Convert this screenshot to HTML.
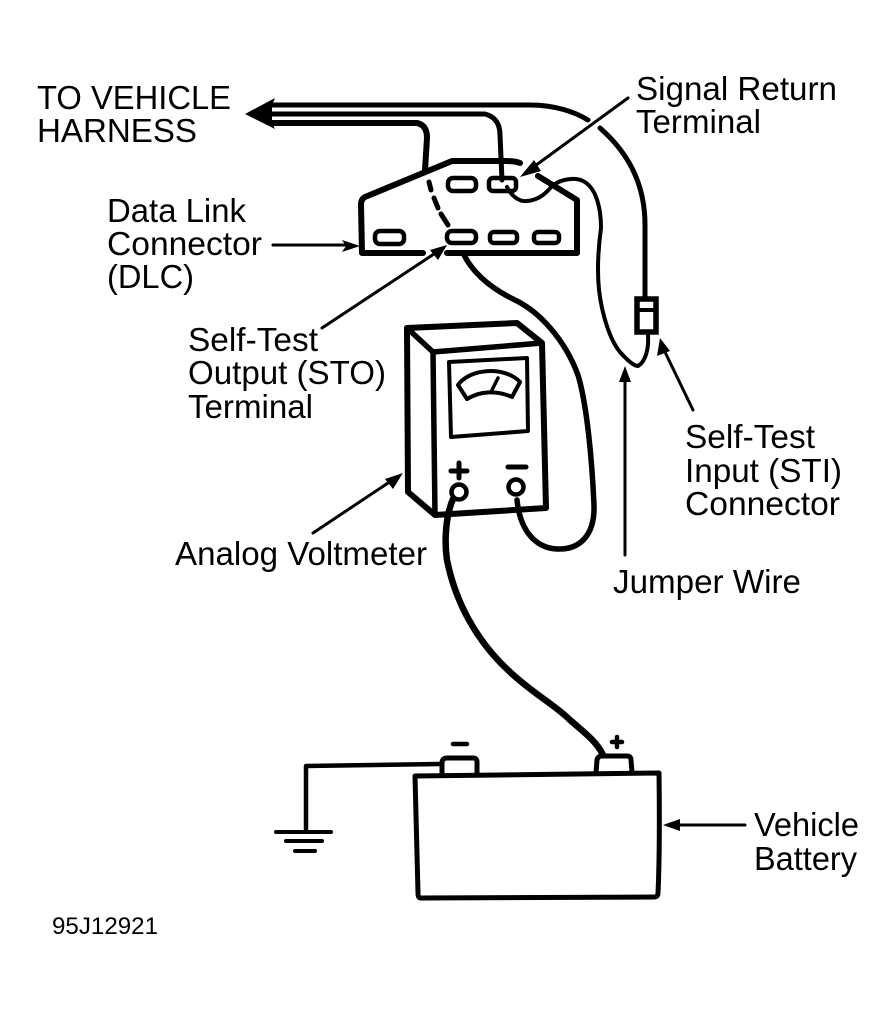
<!DOCTYPE html>
<html><head><meta charset="utf-8"><style>
html,body{margin:0;padding:0;background:#fff;width:895px;height:1009px;overflow:hidden}
svg{display:block}
text{font-family:"Liberation Sans",sans-serif;font-size:33px;fill:#000}
.s{fill:none;stroke:#000;stroke-linecap:round;stroke-linejoin:round}
</style></head><body>
<svg width="895" height="1009" viewBox="0 0 895 1009" xmlns="http://www.w3.org/2000/svg">
<!-- harness -->
<polygon points="245,114 275,98 272,105 272,123 275,129" fill="#000"/>
<path class="s" stroke-width="5" d="M272,105 H530 C555,105 575,112 588,120"/>
<path class="s" stroke-width="5" d="M600,128 C625,150 645,180 645,225 L645,297"/>
<path class="s" stroke-width="5" d="M272,114 H485 Q500,118 500,135 L502,180"/>
<path class="s" stroke-width="6" d="M272,123 H417 Q427,125 427,138 L425,170"/>
<!-- DLC -->
<path class="s" stroke-width="6" d="M520,163 Q515,161 505,161 H452 L365,197 Q361,199 361,205 L362,253 H423"/>
<path class="s" stroke-width="6" d="M447,253 H577 V200 L538,176"/>
<g class="s" stroke-width="4.5">
<rect x="448" y="178" width="28" height="13" rx="5"/>
<rect x="489" y="178" width="27" height="13" rx="4"/>
<rect x="375" y="231" width="29" height="13" rx="5"/>
<rect x="447" y="231" width="29" height="12" rx="5"/>
<rect x="490" y="232" width="27" height="11" rx="4"/>
<rect x="534" y="232" width="25" height="11" rx="4"/>
</g>
<path class="s" stroke-width="5" d="M429,182 L431,190 M434,198 L438,208 M441,214 L448,225"/>
<!-- jumper -->
<path class="s" stroke-width="4" d="M507,187 C512,197 520,202 527,201 C540,200 547,192 553,185 C562,179 575,177 583,181 C597,188 601,210 601,228 C598,250 597,270 599,290 C602,315 610,340 620,352 C628,361 634,366 638,366 C645,362 649,350 648,335"/>
<rect x="637" y="299" width="19" height="33" fill="#fff" stroke="#000" stroke-width="5.5"/>
<path d="M637,310 H656" stroke="#000" stroke-width="4"/>
<!-- STO wire -->
<path class="s" stroke-width="5.5" d="M463,253 C472,272 490,288 515,300 C540,312 565,340 578,375 C587,405 592,460 594,505 C595,535 580,550 557,549 C535,548 520,530 517,500"/>
<!-- meter -->
<path class="s" fill="#fff" stroke-width="6" d="M407,328 L517,323 L542,343 L546,508 L435,515 L408,492 Z"/>
<path class="s" stroke-width="5.5" d="M407,328 L433,352 L542,343 M433,352 L435,515"/>
<path class="s" stroke-width="4" d="M449,362 L527,358 L528,431 L451,437 Z"/>
<path class="s" stroke-width="4" d="M458,385 C470,368 505,366 520,382 L512,397 C497,390 480,391 467,399 Z"/>
<path class="s" stroke-width="3.5" d="M498,378 L492,390"/>
<path class="s" stroke-width="5" d="M459,463 V478 M451,471 H467 M508,467 H526"/>
<circle cx="459" cy="492" r="7.5" fill="#fff" stroke="#000" stroke-width="4.5"/>
<circle cx="516" cy="487" r="7.5" fill="#fff" stroke="#000" stroke-width="4.5"/>
<!-- plus wire -->
<path class="s" stroke-width="6.5" d="M453,499 C446,515 444,540 447,560 C455,600 475,640 510,672 C535,695 555,705 570,720 C585,733 597,742 603,755"/>
<!-- battery -->
<path class="s" stroke-width="5" d="M415,776 L659,773 Q660,850 658,893 Q658,897 654,897 L421,898 Q418,898 418,893 Z"/>
<path class="s" fill="#fff" stroke-width="5" d="M442,775 V762 Q443,758 447,758 H473 Q477,758 477,762 V775"/>
<path class="s" fill="#fff" stroke-width="5" d="M596,773 L597,760 Q598,756 602,756 H627 Q631,756 631,760 L632,772"/>
<path class="s" stroke-width="4.5" d="M440,764 L306,766 V830"/>
<path class="s" stroke-width="4" d="M276,832 H331 M286,841 H322 M295,851 H315"/>
<path class="s" stroke-width="4.5" d="M453,744 H467 M612,742 H622 M617,737 V747"/>
<!-- leaders -->
<g class="s" stroke-width="3">
<path d="M628,98 L528,171"/>
<path d="M322,328 L440,250"/>
<path d="M273,245 H350"/>
<path d="M313,533 L394,479"/>
<path d="M693,410 L664,350"/>
<path d="M625,555 V378"/>
<path d="M745,825 H676"/>
</g>
<g fill="#000">
<polygon points="520,177 534,160 541,171"/>
<polygon points="447,245 430,250 438,260"/>
<polygon points="360,246 342,240 346,246 342,252"/>
<polygon points="403,473 385,479 393,489"/>
<polygon points="660,338 657,356 670,351"/>
<polygon points="625,366 619,382 631,382"/>
<polygon points="663,825 680,819 680,831"/>
</g>
<!-- labels -->
<text x="37" y="109" textLength="194" lengthAdjust="spacingAndGlyphs">TO VEHICLE</text>
<text x="37" y="142" textLength="160" lengthAdjust="spacingAndGlyphs">HARNESS</text>
<text x="636" y="100" textLength="201" lengthAdjust="spacingAndGlyphs">Signal Return</text>
<text x="636" y="133" textLength="125" lengthAdjust="spacingAndGlyphs">Terminal</text>
<text x="107" y="222" textLength="139" lengthAdjust="spacingAndGlyphs">Data Link</text>
<text x="107" y="255" textLength="155" lengthAdjust="spacingAndGlyphs">Connector</text>
<text x="107" y="288" textLength="87" lengthAdjust="spacingAndGlyphs">(DLC)</text>
<text x="188" y="351" textLength="130" lengthAdjust="spacingAndGlyphs">Self-Test</text>
<text x="188" y="384" textLength="198" lengthAdjust="spacingAndGlyphs">Output (STO)</text>
<text x="188" y="418" textLength="125" lengthAdjust="spacingAndGlyphs">Terminal</text>
<text x="175" y="565" textLength="252" lengthAdjust="spacingAndGlyphs">Analog Voltmeter</text>
<text x="685" y="448" textLength="130" lengthAdjust="spacingAndGlyphs">Self-Test</text>
<text x="685" y="482" textLength="157" lengthAdjust="spacingAndGlyphs">Input (STI)</text>
<text x="685" y="515" textLength="155" lengthAdjust="spacingAndGlyphs">Connector</text>
<text x="613" y="593" textLength="188" lengthAdjust="spacingAndGlyphs">Jumper Wire</text>
<text x="754" y="836" textLength="105" lengthAdjust="spacingAndGlyphs">Vehicle</text>
<text x="754" y="870" textLength="103" lengthAdjust="spacingAndGlyphs">Battery</text>
<text x="52" y="934" textLength="106" lengthAdjust="spacingAndGlyphs" style="font-size:24px">95J12921</text>
</svg>
</body></html>
